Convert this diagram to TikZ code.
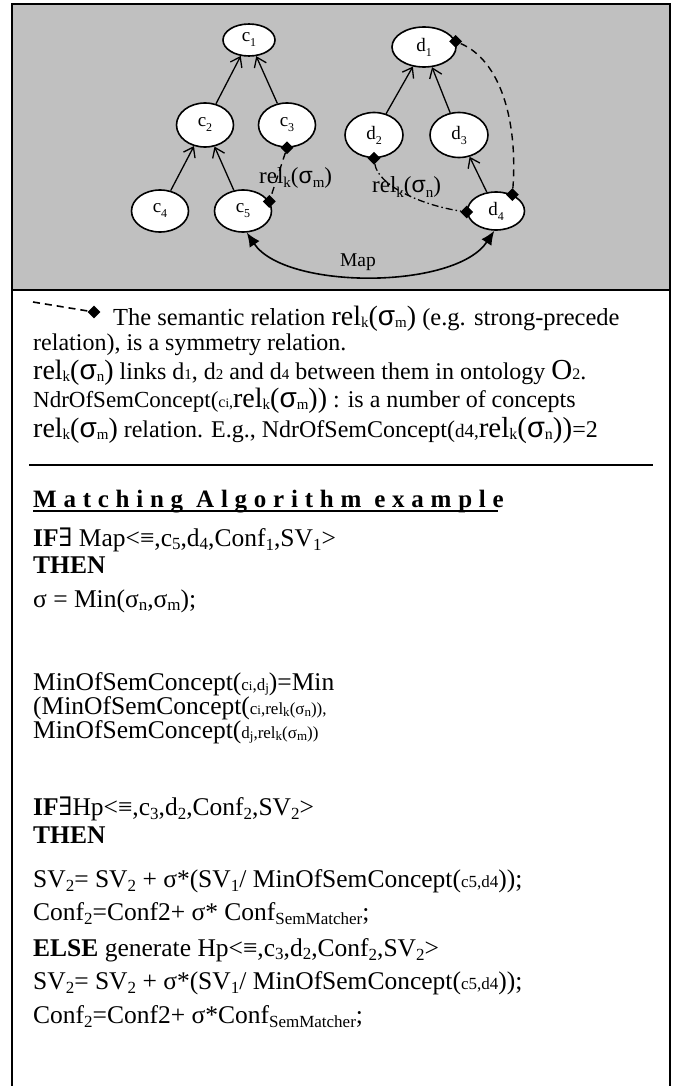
\documentclass[tikz,border=0pt]{standalone}
\usepackage{fontspec}
\setmainfont{Liberation Serif}
\newfontfamily\sansf{Liberation Sans}
\newfontfamily\dvs{DejaVu Serif}
\newfontfamily\hdfont[LetterSpace=27]{Liberation Serif}
\usetikzlibrary{arrows.meta,shapes.geometric}
\definecolor{panel}{RGB}{192,192,192}
\newcommand{\fs}[1]{\fontsize{#1}{#1}\selectfont}
\newcommand{\lo}[3]{\raisebox{-#1}{\fs{#2}#3}}
\newcommand{\relk}[4]{{\fs{#1}rel}\lo{#3}{#2}{k}{\fs{#1}(\sansf σ}\lo{#3}{#2}{#4}{\fs{#1})}}
\begin{document}
\begin{tikzpicture}[x=1pt,y=1pt,
  cnode/.style={draw,line width=1.6pt,ellipse,fill=white,inner sep=0pt,minimum width=57pt,minimum height=44pt,font=\fs{19}},
  isa/.style={line width=1.3pt,-{Straight Barb[length=9pt,width=13pt,line width=1.3pt]}},
  dia/.style={diamond,fill=black,inner sep=0pt,minimum size=13pt},
  semline/.style={line width=1.4pt,dash pattern=on 7pt off 5pt},
  semdot/.style={line width=1.3pt,dash pattern=on 7pt off 3pt on 1.5pt off 3pt},
  maparr/.style={line width=1.6pt,{Latex[length=14pt,width=12pt]}-{Latex[length=14pt,width=12pt]}},
  txt/.style={anchor=base west,inner sep=0pt,font=\fs{24}},
  alg/.style={anchor=base west,inner sep=0pt,font=\fs{25.5}},
  lbl/.style={anchor=base west,inner sep=0pt},
]
\useasboundingbox (0,0) rectangle (675,-1086);
\fill[white] (0,0) rectangle (675,-1086);
\fill[panel] (12,-4) rectangle (670,-290);
\draw[line width=2pt] (12,-1090) -- (12,-4) -- (670,-4) -- (670,-1090);
\draw[line width=2pt] (12,-290) -- (670,-290);

% concept nodes
\node[cnode,minimum width=52pt,minimum height=32pt] (c1) at (249,-40) {c\lo{5pt}{12}{1}};
\node[cnode] (c2) at (205,-125) {c\lo{5pt}{12}{2}};
\node[cnode] (c3) at (287,-125) {c\lo{5pt}{12}{3}};
\node[cnode,minimum height=42pt] (c4) at (160,-211) {c\lo{5pt}{12}{4}};
\node[cnode,minimum height=42pt] (c5) at (243,-211) {c\lo{5pt}{12}{5}};
\node[cnode,minimum width=64pt,minimum height=40pt] (d1) at (424,-47) {d\lo{5pt}{12}{1}};
\node[cnode,minimum width=58pt,minimum height=45pt] (d2) at (374,-135) {d\lo{5pt}{12}{2}};
\node[cnode,minimum width=58pt,minimum height=45pt] (d3) at (459,-135) {d\lo{5pt}{12}{3}};
\node[cnode,minimum height=38pt] (d4) at (496,-211) {d\lo{5pt}{12}{4}};

% is-a arrows
\draw[isa] (c2) -- (c1);
\draw[isa] (c3) -- (c1);
\draw[isa] (c4) -- (c2);
\draw[isa] (c5) -- (c2);
\draw[isa] (d2) -- (d1);
\draw[isa] (d3) -- (d1);
\draw[isa] (d4) -- (d3);

% diamonds
\node[dia] (m3) at (c3.south) {};
\node[dia] (m5) at (c5.20) {};
\node[dia] (n2) at (d2.south) {};
\node[dia] (n4a) at (d4.182) {};
\node[dia] (n4b) at (d4.45) {};
\node[dia] (n1) at (d1.10) {};

% semantic relations
\draw[semline] (m3) -- (m5);
\draw[semdot] (n2) .. controls (378,-185) and (420,-205) .. (n4a);
\draw[semline] (n4b) .. controls (518,-120) and (500,-60) .. (n1);

\node[lbl] (rm) at (259,-183) {\relk{23}{15}{5pt}{m}};
\node[lbl] (rn) at (372,-193) {\relk{23}{15}{5pt}{n}};

% map
\draw[maparr] (c5.-80) .. controls (285,-290) and (455,-290) .. (d4.-95);
\node[font=\fs{19.5},anchor=base,inner sep=0pt] (maplbl) at (358,-266) {Map};

% legend
\coordinate (lg0) at (33,-302);
\node[dia] (lg) at (94,-312) {};
\draw[line width=1.6pt,dash pattern=on 7pt off 5pt] (lg0) -- (lg);
\node[txt,font=\fs{24.5}] (l1) at (113,-325) {The semantic relation \relk{28}{15}{2pt}{m} (e.g. strong-precede};
\node[txt] (l2) at (33,-350) {relation), is a symmetry relation.};
\node[txt] (l3) at (33,-379) {\relk{28}{15}{2pt}{n} links d{\fs{15}1}, d{\fs{15}2} and d{\fs{15}4} between them in ontology {\fs{29}O}{\fs{16}2}.};
\node[txt] (l4) at (33,-407) {{\fs{23}NdrOfSemConcept(}{\fs{16}c{\fs{13}i},}\relk{28}{15}{2pt}{m}{\fs{28})} : is a number of concepts};
\node[txt] (l5) at (33,-437) {\relk{28}{15}{2pt}{m} {\fs{24}relation. E.g., NdrOfSemConcept(}{\fs{19}d4,}\relk{29}{16}{2pt}{n}{\fs{29})}=2};
\draw[line width=2pt] (29,-465) -- (653,-465);

% algorithm
\node[anchor=base west,inner sep=0pt,font=\hdfont\bfseries\fs{25}] (hd) at (33,-507) {Matching Algorithm example};
\draw[line width=2.2pt] ([yshift=-4pt]hd.base west) -- ([yshift=-4pt,xshift=-6pt]hd.base east);
\node[alg] (a1) at (33,-546) {\textbf{IF}{\dvs ∃} Map<≡,c\lo{3pt}{17}{5},d\lo{3pt}{17}{4},Conf\lo{4pt}{17}{1},SV\lo{4pt}{17}{1}>};
\node[alg] (a2) at (33,-573) {\textbf{THEN}};
\node[alg] (a3) at (33,-607) {σ = Min(σ\lo{3pt}{17}{n},σ\lo{3pt}{17}{m});};
\node[alg] (a4) at (33,-690) {MinOfSemConcept({\fs{17}c{\fs{13}i},d\lo{2pt}{13}{j}})=Min};
\node[alg] (a5) at (33,-714) {(MinOfSemConcept({\fs{17}c{\fs{13}i},rel\lo{2pt}{13}{k}(σ\lo{2pt}{13}{n})),}};
\node[alg] (a6) at (33,-738) {MinOfSemConcept({\fs{17}d\lo{2pt}{13}{j},rel\lo{2pt}{13}{k}(σ\lo{2pt}{13}{m}))}};
\node[alg] (a7) at (33,-815) {\textbf{IF}{\dvs ∃}Hp<≡,c\lo{4pt}{17}{3},d\lo{4pt}{17}{2},Conf\lo{4pt}{17}{2},SV\lo{4pt}{17}{2}>};
\node[alg] (a8) at (33,-843) {\textbf{THEN}};
\node[alg] (a9) at (33,-887) {SV\lo{4pt}{17}{2}= SV\lo{4pt}{17}{2} + σ*(SV\lo{4pt}{17}{1}/ MinOfSemConcept({\fs{17}c5,d4}));};
\node[alg] (a10) at (33,-920) {Conf\lo{4pt}{17}{2}=Conf2+ σ* Conf\lo{4pt}{17}{SemMatcher};};
\node[alg] (a11) at (33,-956) {\textbf{ELSE} generate Hp<≡,c\lo{3pt}{17}{3},d\lo{3pt}{17}{2},Conf\lo{4pt}{17}{2},SV\lo{4pt}{17}{2}>};
\node[alg] (a12) at (33,-989) {SV\lo{4pt}{17}{2}= SV\lo{4pt}{17}{2} + σ*(SV\lo{4pt}{17}{1}/ MinOfSemConcept({\fs{17}c5,d4}));};
\node[alg] (a13) at (33,-1023) {Conf\lo{4pt}{17}{2}=Conf2+ σ*Conf\lo{4pt}{17}{SemMatcher};};
\end{tikzpicture}
\end{document}
